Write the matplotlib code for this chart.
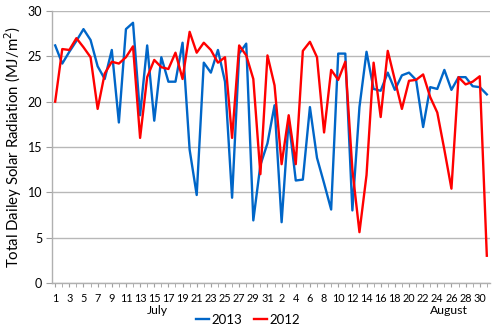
import matplotlib
matplotlib.use("Agg")
import matplotlib.pyplot as plt
import numpy as np

# Days: July 1-31, August 1-31
july_days = list(range(1, 32))
aug_days = list(range(1, 32))
months = ["July", "August"]

sr_2013 = [26.2, 24.2, 25.5, 26.7, 28.0, 26.8, 23.9, 22.5, 25.7, 17.7,
           28.0, 28.7, 18.5, 26.2, 17.9, 24.9, 22.2, 22.2, 26.5, 14.7,
           9.7, 24.3, 23.2, 25.7, 22.2, 9.4, 25.3, 26.4, 6.9, 13.0,
           15.4, 19.6, 6.7, 18.0, 11.3, 11.4, 19.4, 13.8, 11.0, 8.1,
           25.3, 25.3, 8.0, 19.4, 25.5, 21.4, 21.2, 23.2, 21.3, 22.9,
           23.2, 22.4, 17.2, 21.6, 21.4, 23.5, 21.3, 22.7, 22.7, 21.7,
           21.6, 20.8]
sr_2012 = [20.0, 25.8, 25.7, 27.0, 26.0, 24.9, 19.2, 23.1, 24.4, 24.2,
           24.9, 26.1, 16.0, 22.7, 24.6, 23.8, 23.6, 25.4, 22.5, 27.7,
           25.4, 26.5, 25.7, 24.3, 24.9, 16.0, 26.2, 25.1, 22.5, 12.0,
           25.1, 21.8, 13.1, 18.5, 13.1, 25.6, 26.6, 24.9, 16.6, 23.5,
           22.4, 24.4, 12.5, 5.6, 11.9, 24.3, 18.3, 25.6, 22.4, 19.2,
           22.3, 22.4, 23.0, 20.5, 18.8, 14.7, 10.4, 22.7, 21.9, 22.2,
           22.8, 3.0]

day_labels = [str(d) for d in july_days + aug_days]
x = np.arange(len(day_labels))

plt.rcParams['font.family'] = ['Lato', 'DejaVu Sans']

fig = plt.figure(figsize=(5.0, 3.29), dpi=100)
ax = fig.add_axes([0.104, 0.140, 0.876, 0.8266])

ax.plot(x, sr_2013, color='#0066C8', lw=1.7, label='2013', zorder=3)
ax.plot(x, sr_2012, color='#FF0000', lw=1.7, label='2012', zorder=3)

ax.set_ylim(0, 30)
ax.set_yticks(range(0, 31, 5))
ax.set_xlim(-0.45, len(x) - 1 + 0.45)
ax.set_xticks(x, minor=True)
ax.set_xticks(x[::2])
ax.set_xticklabels(day_labels[::2], fontsize=7.8)
ax.tick_params(axis='x', which='both', length=3, color='#a0a0a0', pad=4)
ax.tick_params(axis='y', labelsize=9, length=4, color='#a0a0a0', pad=3)

ax.grid(axis='y', color='#b8b8b8', lw=1.0, zorder=0)
for s in ['top', 'right']:
    ax.spines[s].set_visible(False)
for s in ['left', 'bottom']:
    ax.spines[s].set_color('#b0b0b0')
    ax.spines[s].set_linewidth(1.0)

ax.set_ylabel('Total Dailey Solar Radiation (MJ/m$^2$)', fontsize=10.8, labelpad=3)

trans = matplotlib.transforms.blended_transform_factory(ax.transData, ax.transAxes)
ax.text(14.5, -0.103, months[0], transform=trans, ha='center', va='center', fontsize=8.8)
ax.text(55.6, -0.103, months[1], transform=trans, ha='center', va='center', fontsize=8.8)

fig.legend(loc='center', bbox_to_anchor=(248 / 500, 1 - 320 / 329), ncol=2,
           frameon=False, fontsize=9.5, handlelength=1.0, handletextpad=0.15,
           columnspacing=0.9, borderpad=0)

fig.savefig('out.png', dpi=100)
